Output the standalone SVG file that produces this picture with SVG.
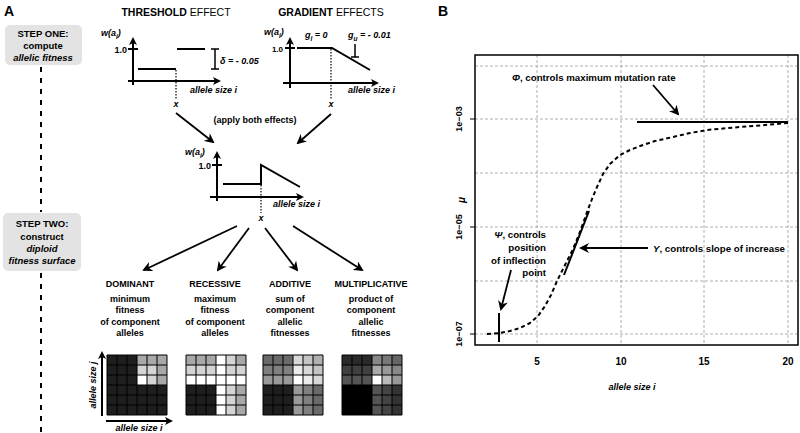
<svg xmlns="http://www.w3.org/2000/svg" xmlns:xlink="http://www.w3.org/1999/xlink" width="800" height="433" viewBox="0 0 800 433">
<style>
.t{font-family:"Liberation Sans","Open Sans",sans-serif;font-weight:700;font-size:9px;fill:#000}
.b{font-size:9.7px}
.s{font-size:9.5px}
.i{font-style:italic}
.m{text-anchor:middle}
.e{text-anchor:end}
.n{font-weight:400}
.ln{stroke:#000;stroke-width:2;fill:none}
.ax{stroke:#000;stroke-width:2;fill:none;marker-end:url(#ax)}
.ar{stroke:#000;stroke-width:1.8;fill:none;marker-end:url(#ah)}
.dot{stroke:#000;stroke-width:1.2;stroke-dasharray:1.5 1.5;fill:none}
.grid{stroke:#000;stroke-width:1;fill:none}
.gl{stroke:#9a9a9a;stroke-width:0.8;stroke-dasharray:3 2;fill:none}
.box{fill:#e3e3e3}
</style>
<defs>
<marker id="ah" markerWidth="10" markerHeight="10" refX="8" refY="5" orient="auto" markerUnits="userSpaceOnUse"><path d="M0,0 L10,5 L0,10 L3,5 z" fill="#000"/></marker>
<marker id="ax" markerWidth="8" markerHeight="8" refX="6" refY="4" orient="auto" markerUnits="userSpaceOnUse"><path d="M0,0 L8,4 L0,8 L2,4 z" fill="#000"/></marker>
<path id="gridlines" d="M0 0V60M10 0V60M20 0V60M30 0V60M40 0V60M50 0V60M60 0V60M0 0H60M0 10H60M0 20H60M0 30H60M0 40H60M0 50H60M0 60H60"/>
</defs>

<!-- Panel labels -->
<text class="t" x="4" y="16" style="font-size:14px">A</text>
<text class="t" x="438" y="16" style="font-size:14px">B</text>

<!-- Step boxes -->
<g id="step-one">
<rect class="box" x="5" y="25" width="77" height="40" rx="5"/>
<text class="t s m" x="43" y="37">STEP ONE:</text>
<text class="t s m" x="43" y="49">compute</text>
<text class="t s m i" x="43" y="61">allelic fitness</text>
</g>
<g id="step-two">
<rect class="box" x="3" y="213" width="78" height="58" rx="5"/>
<text class="t s m" x="42" y="227">STEP TWO:</text>
<text class="t s m" x="42" y="240">construct</text>
<text class="t s m i" x="42" y="252">diploid</text>
<text class="t s m i" x="42" y="264">fitness surface</text>
</g>
<g id="timeline">
<path d="M41 67V212M41 273V433" stroke="#000" stroke-width="2" stroke-dasharray="5 6"/>
</g>

<!-- Threshold effect -->
<g id="threshold">
<text class="t m" x="176" y="16" style="font-size:10.5px">THRESHOLD<tspan class="n"> EFFECT</tspan></text>
<line class="ax" x1="133" y1="85" x2="133" y2="39"/>
<line class="ax" x1="128" y1="81" x2="219" y2="81"/>
<line class="ln" x1="128" y1="49" x2="138" y2="49"/>
<text class="t e" x="127" y="53">1.0</text>
<text class="t i" x="101" y="36">w(a<tspan style="font-size:6.5px" dy="3">i</tspan><tspan dy="-3">)</tspan></text>
<line class="ln" x1="138" y1="69" x2="176" y2="69"/>
<line class="ln" x1="177" y1="49" x2="205" y2="49"/>
<line class="dot" x1="176" y1="70" x2="176" y2="99"/>
<text class="t i m" x="176" y="107">x</text>
<text class="t i" x="190" y="93">allele size i</text>
<path d="M215 49V69M211 49H219M211 69H219" stroke="#000" stroke-width="1.5" fill="none"/>
<text class="t i" x="220" y="64">δ = - 0.05</text>
</g>

<!-- Gradient effects -->
<g id="gradient">
<text class="t m" x="331" y="16" style="font-size:10.5px">GRADIENT<tspan class="n"> EFFECTS</tspan></text>
<line class="ax" x1="290" y1="88" x2="290" y2="39"/>
<line class="ax" x1="283" y1="83" x2="377" y2="83"/>
<line class="ln" x1="285" y1="48" x2="295" y2="48"/>
<text class="t e" x="283" y="52" style="font-size:8px">1.0</text>
<text class="t i" x="264" y="35">w(a<tspan style="font-size:6.5px" dy="3">i</tspan><tspan dy="-3">)</tspan></text>
<polyline class="ln" points="297,48 332,48 370,70"/>
<line class="dot" x1="331" y1="49" x2="331" y2="99"/>
<text class="t i m" x="331" y="107">x</text>
<text class="t i" x="348" y="93">allele size i</text>
<text class="t i" x="305" y="38">g<tspan style="font-size:6.5px" dy="3">l</tspan><tspan dy="-3"> = 0</tspan></text>
<text class="t i" x="348" y="38">g<tspan style="font-size:6.5px" dy="3">u</tspan><tspan dy="-3"> = - 0.01</tspan></text>
<path d="M355 44V57M351 57H359" stroke="#000" stroke-width="1.5" fill="none"/>
</g>

<!-- Combined -->
<g id="combined">
<text class="t m" x="255" y="123">(apply both effects)</text>
<line class="ax" x1="217" y1="201" x2="217" y2="153"/>
<line class="ax" x1="210" y1="197" x2="302" y2="197"/>
<line class="ln" x1="212" y1="165" x2="222" y2="165"/>
<text class="t e" x="211" y="169">1.0</text>
<text class="t i" x="185" y="155">w(a<tspan style="font-size:6.5px" dy="3">i</tspan><tspan dy="-3">)</tspan></text>
<polyline class="ln" points="223,184 261,184 261,165 300,187"/>
<line class="dot" x1="261" y1="185" x2="261" y2="213"/>
<text class="t i m" x="261" y="221">x</text>
<text class="t i" x="273" y="207">allele size i</text>
</g>

<!-- Dominance labels -->
<g id="dominant">
<text class="t m" x="130" y="287">DOMINANT</text>
<text class="t m" x="130" y="302">minimum</text>
<text class="t m" x="130" y="313">fitness</text>
<text class="t m" x="130" y="325">of component</text>
<text class="t m" x="130" y="336">alleles</text>
<g transform="translate(107,355)">
<rect width="60" height="60" fill="#1e1e1e"/>
<rect x="30" y="0" width="30" height="10" fill="#a8a8a8"/>
<rect x="30" y="10" width="20" height="10" fill="#d4d4d4"/>
<rect x="50" y="10" width="10" height="20" fill="#a8a8a8"/>
<rect x="30" y="20" width="10" height="10" fill="#fff"/>
<rect x="40" y="20" width="10" height="10" fill="#d4d4d4"/>
<use xlink:href="#gridlines" class="grid"/>
</g>
<line class="ax" x1="102" y1="416" x2="102" y2="353"/>
<line class="ax" x1="106" y1="421" x2="171" y2="421"/>
<text class="t i m" transform="translate(96,385) rotate(-90)">allele size j</text>
<text class="t i m" x="139" y="431">allele size i</text>
</g>

<g id="recessive">
<text class="t m" x="215" y="287">RECESSIVE</text>
<text class="t m" x="215" y="302">maximum</text>
<text class="t m" x="215" y="313">fitness</text>
<text class="t m" x="215" y="325">of component</text>
<text class="t m" x="215" y="336">alleles</text>
<g transform="translate(186,355)">
<rect width="60" height="60" fill="#1e1e1e"/>
<rect x="0" y="0" width="30" height="10" fill="#a8a8a8"/>
<rect x="0" y="10" width="30" height="10" fill="#d4d4d4"/>
<rect x="0" y="20" width="60" height="10" fill="#fff"/>
<rect x="30" y="0" width="10" height="60" fill="#fff"/>
<rect x="40" y="0" width="10" height="10" fill="#d4d4d4"/>
<rect x="50" y="0" width="10" height="10" fill="#a8a8a8"/>
<rect x="40" y="10" width="20" height="10" fill="#d4d4d4"/>
<rect x="40" y="30" width="10" height="30" fill="#d4d4d4"/>
<rect x="50" y="30" width="10" height="30" fill="#a8a8a8"/>
<use xlink:href="#gridlines" class="grid"/>
</g>
</g>

<g id="additive">
<text class="t m" x="290" y="287">ADDITIVE</text>
<text class="t m" x="290" y="302">sum of</text>
<text class="t m" x="290" y="313">component</text>
<text class="t m" x="290" y="325">allelic</text>
<text class="t m" x="290" y="336">fitnesses</text>
<g transform="translate(263,355)">
<rect width="60" height="60" fill="#1e1e1e"/>
<rect x="0" y="0" width="30" height="10" fill="#6a6a6a"/>
<rect x="0" y="10" width="30" height="10" fill="#808080"/>
<rect x="0" y="20" width="30" height="10" fill="#999"/>
<rect x="30" y="0" width="10" height="10" fill="#d8d8d8"/>
<rect x="40" y="0" width="10" height="10" fill="#c4c4c4"/>
<rect x="50" y="0" width="10" height="10" fill="#b0b0b0"/>
<rect x="30" y="10" width="10" height="10" fill="#ececec"/>
<rect x="40" y="10" width="10" height="10" fill="#d8d8d8"/>
<rect x="50" y="10" width="10" height="10" fill="#c4c4c4"/>
<rect x="30" y="20" width="10" height="10" fill="#fff"/>
<rect x="40" y="20" width="10" height="10" fill="#ececec"/>
<rect x="50" y="20" width="10" height="10" fill="#d8d8d8"/>
<rect x="30" y="30" width="10" height="30" fill="#999"/>
<rect x="40" y="30" width="10" height="30" fill="#808080"/>
<rect x="50" y="30" width="10" height="30" fill="#6a6a6a"/>
<use xlink:href="#gridlines" class="grid"/>
</g>
</g>

<g id="multiplicative">
<text class="t m" x="371" y="287">MULTIPLICATIVE</text>
<text class="t m" x="371" y="302">product of</text>
<text class="t m" x="371" y="313">component</text>
<text class="t m" x="371" y="325">allelic</text>
<text class="t m" x="371" y="336">fitnesses</text>
<g transform="translate(342,355)">
<rect width="60" height="60" fill="#000"/>
<rect x="0" y="0" width="30" height="10" fill="#2a2a2a"/>
<rect x="0" y="10" width="30" height="10" fill="#404040"/>
<rect x="0" y="20" width="30" height="10" fill="#555"/>
<rect x="30" y="0" width="10" height="10" fill="#888"/>
<rect x="40" y="0" width="10" height="10" fill="#777"/>
<rect x="50" y="0" width="10" height="10" fill="#666"/>
<rect x="30" y="10" width="10" height="10" fill="#aaa"/>
<rect x="40" y="10" width="10" height="10" fill="#999"/>
<rect x="50" y="10" width="10" height="10" fill="#888"/>
<rect x="30" y="20" width="10" height="10" fill="#fff"/>
<rect x="40" y="20" width="10" height="10" fill="#bbb"/>
<rect x="50" y="20" width="10" height="10" fill="#999"/>
<rect x="30" y="30" width="10" height="30" fill="#555"/>
<rect x="40" y="30" width="10" height="30" fill="#444"/>
<rect x="50" y="30" width="10" height="30" fill="#333"/>
<use xlink:href="#gridlines" class="grid"/>
</g>
</g>

<!-- Connectors -->
<g id="connectors">
<line class="ar" x1="176" y1="113" x2="213" y2="142"/>
<line class="ar" x1="331" y1="114" x2="298" y2="143"/>
<line class="ar" x1="237" y1="226" x2="144" y2="270"/>
<line class="ar" x1="249" y1="228" x2="218" y2="270"/>
<line class="ar" x1="265" y1="228" x2="297" y2="270"/>
<line class="ar" x1="293" y1="226" x2="362" y2="270"/>
</g>

<!-- Panel B -->
<g id="plot">
<path class="gl" d="M537 55V345M621 55V345M704 55V345M788 55V345M475 66H798M475 119H798M475 173H798M475 227H798M475 281H798M475 334H798"/>
<rect x="475" y="55" width="323" height="290" fill="none" stroke="#000" stroke-width="1.5"/>
<path d="M470 119H475M470 227H475M470 334H475" stroke="#000" stroke-width="1"/>
<text class="t m" transform="translate(462,119) rotate(-90)">1e−03</text>
<text class="t m" transform="translate(462,227) rotate(-90)">1e−05</text>
<text class="t m" transform="translate(462,334) rotate(-90)">1e−07</text>
<text class="t m i" transform="translate(465,200) rotate(-90)" style="font-size:10px">μ</text>
<text class="t m" x="537" y="365" style="font-size:10px">5</text>
<text class="t m" x="621" y="365" style="font-size:10px">10</text>
<text class="t m" x="704" y="365" style="font-size:10px">15</text>
<text class="t m" x="788" y="365" style="font-size:10px">20</text>
<text class="t m i" x="632" y="390">allele size i</text>
<path d="M487 334 L500 333 L510 331 L520 328 L530 323 L538 316 L545 306 L551 295 L557 281 L565 265 L573 249 L580 232 L587 212 L592 199 L597 187 L603 174 L610 164 L620 155 L630 150 L640 146 L655 141 L673 137 L690 133 L707 130 L740 127 L765 125 L788 123" fill="none" stroke="#000" stroke-width="2" stroke-dasharray="4 3" stroke-linejoin="round"/>
</g>
<g id="phi">
<line class="ln" x1="637" y1="122" x2="788" y2="122"/>
<line class="ar" x1="653" y1="85" x2="678" y2="114"/>
<text class="t b" x="512" y="81"><tspan class="i">Φ</tspan>, controls maximum mutation rate</text>
</g>
<g id="upsilon">
<line class="ln" x1="564" y1="275" x2="589" y2="211"/>
<line class="ar" x1="648" y1="248" x2="581" y2="248"/>
<text class="t b" x="653" y="252"><tspan class="i">Υ</tspan>, controls slope of increase</text>
</g>
<g id="psi">
<line class="ln" x1="499" y1="313" x2="499" y2="342"/>
<line class="ar" x1="511" y1="270" x2="501" y2="309"/>
<text class="t b e" x="546" y="238"><tspan class="i">Ψ</tspan>, controls</text>
<text class="t b e" x="546" y="251">position</text>
<text class="t b e" x="546" y="264">of inflection</text>
<text class="t b e" x="546" y="276">point</text>
</g>
</svg>
